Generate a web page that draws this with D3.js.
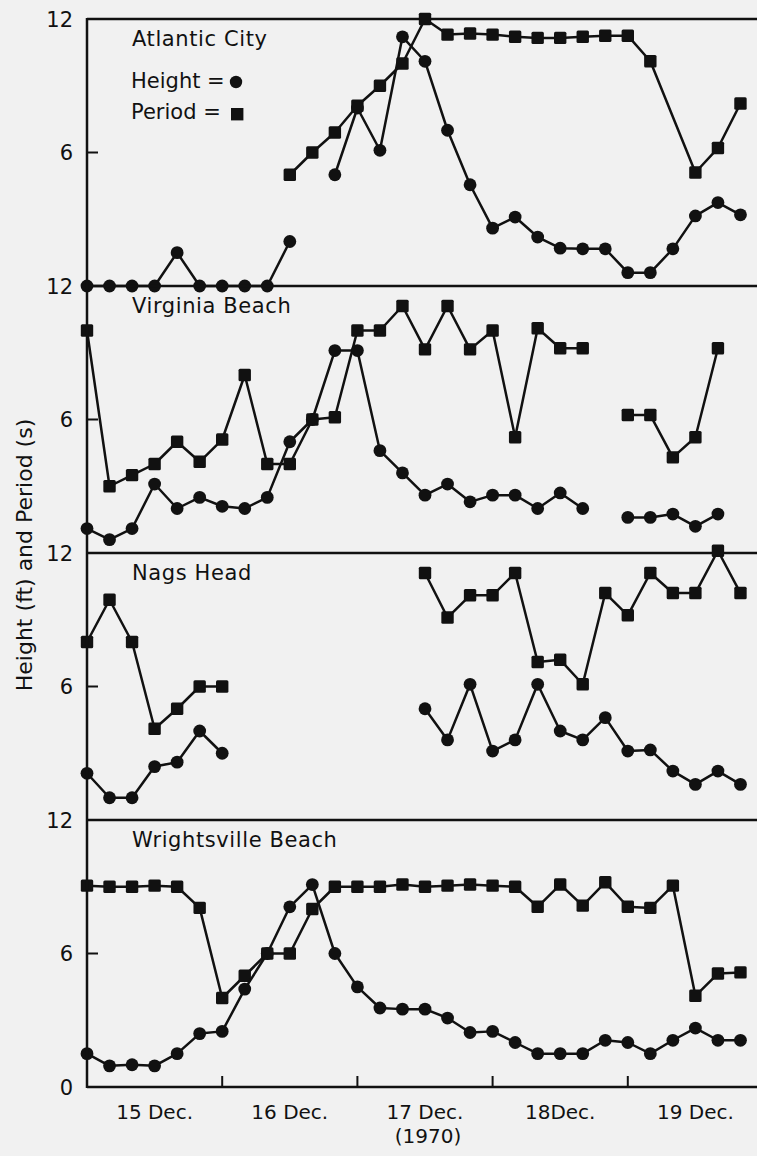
<!DOCTYPE html>
<html>
<head>
<meta charset="utf-8">
<script src="https://cdn.jsdelivr.net/npm/d3@7"></script>
<style>
  html, body { margin: 0; padding: 0; background: #f1f1f1; }
  svg { display: block; }
  text { font-family: "DejaVu Sans", "Noto Sans", sans-serif; fill: #111; }
</style>
</head>
<body>
<svg id="chart" width="757" height="1156"></svg>
<script>
// ---- Data (4-hourly observations from 15 Dec 1970 00h; null = no observation) ----
const stations = ["Atlantic City", "Virginia Beach", "Nags Head", "Wrightsville Beach"];
const dayLabels = ["15 Dec.", "16 Dec.", "17 Dec.", "18Dec.", "19 Dec."];
const yearLabel = "(1970)";
const yTickValues = [0, 6, 12];
const yTitle = "Height (ft) and Period (s)";

const acHeight = [0, 0, 0, 0, 1.5, 0, 0, 0, 0, 2.0, null, 5.0, 8.0, 6.1, 11.2, 10.1, 7.0, 4.55, 2.6, 3.1, 2.2, 1.7, 1.67, 1.67, 0.6, 0.6, 1.67, 3.15, 3.75, 3.2];
const acPeriod = [null, null, null, null, null, null, null, null, null, 5.0, 6.0, 6.9, 8.1, 9.0, 10.0, 12.0, 11.3, 11.35, 11.3, 11.2, 11.15, 11.15, 11.2, 11.25, 11.25, 10.1, null, 5.1, 6.2, 8.2];

const vbHeight = [1.1, 0.6, 1.1, 3.1, 2.0, 2.5, 2.1, 2.0, 2.5, 5.0, 6.0, 9.1, 9.1, 4.6, 3.6, 2.6, 3.1, 2.3, 2.6, 2.6, 2.0, 2.7, 2.0, null, 1.6, 1.6, 1.75, 1.2, 1.75, null];
const vbPeriod = [10.0, 3.0, 3.5, 4.0, 5.0, 4.1, 5.1, 8.0, 4.0, 4.0, 6.0, 6.1, 10.0, 10.0, 11.1, 9.15, 11.1, 9.15, 10.0, 5.2, 10.1, 9.2, 9.2, null, 6.2, 6.2, 4.3, 5.2, 9.2, null];

const nhHeight = [2.1, 1.0, 1.0, 2.4, 2.6, 4.0, 3.0, null, null, null, null, null, null, null, null, 5.0, 3.6, 6.1, 3.1, 3.6, 6.1, 4.0, 3.6, 4.6, 3.1, 3.15, 2.2, 1.6, 2.2, 1.6];
const nhPeriod = [8.0, 9.9, 8.0, 4.1, 5.0, 6.0, 6.0, null, null, null, null, null, null, null, null, 11.1, 9.1, 10.1, 10.1, 11.1, 7.1, 7.2, 6.1, 10.2, 9.2, 11.1, 10.2, 10.2, 12.1, 10.2];

const wbHeight = [1.5, 0.95, 1.0, 0.95, 1.5, 2.4, 2.5, 4.4, 6.0, 8.1, 9.1, 6.0, 4.5, 3.55, 3.5, 3.5, 3.1, 2.45, 2.5, 2.0, 1.5, 1.5, 1.5, 2.1, 2.0, 1.5, 2.1, 2.65, 2.1, 2.1];
const wbPeriod = [9.05, 9.0, 9.0, 9.05, 9.0, 8.05, 4.0, 5.0, 6.0, 6.0, 8.0, 9.0, 9.0, 9.0, 9.1, 9.0, 9.05, 9.1, 9.05, 9.0, 8.1, 9.1, 8.15, 9.2, 8.1, 8.05, 9.05, 4.1, 5.1, 5.15];

// per-station series; "bridge" = line drawn across a missing observation
const panels = [
  { name: stations[0], height: acHeight, period: acPeriod, bridgeHeight: false, bridgePeriod: true },
  { name: stations[1], height: vbHeight, period: vbPeriod, bridgeHeight: false, bridgePeriod: false },
  { name: stations[2], height: nhHeight, period: nhPeriod, bridgeHeight: false, bridgePeriod: false },
  { name: stations[3], height: wbHeight, period: wbPeriod, bridgeHeight: false, bridgePeriod: false }
];

// ---- Layout ----
const svg = d3.select("#chart");
const W = 757, H = 1156;
const plotLeft = 87, plotRight = 763, plotTop = 19, panelH = 267;
const ink = "#111";

svg.append("rect").attr("width", W).attr("height", H).attr("fill", "#f1f1f1");

// x: observation index (4-hour steps), 30 steps = 5 days
const x = d3.scaleLinear().domain([0, 30]).range([plotLeft, plotRight]);
const dayScale = d3.scaleLinear().domain([0, 5]).range([plotLeft, plotRight]);

const g = svg.append("g");

panels.forEach((p, k) => {
  const y0 = plotTop + k * panelH;
  const y = d3.scaleLinear().domain([0, 12]).range([y0 + panelH, y0]);
  const pg = g.append("g");

  pg.append("line").attr("x1", plotLeft).attr("x2", W + 5)
    .attr("y1", y(12)).attr("y2", y(12))
    .attr("stroke", ink).attr("stroke-width", 2.5);

  pg.append("line").attr("x1", plotLeft).attr("x2", plotLeft + 11)
    .attr("y1", y(6)).attr("y2", y(6))
    .attr("stroke", ink).attr("stroke-width", 2);

  const labs = k === panels.length - 1 ? yTickValues : yTickValues.filter(v => v > 0);
  pg.selectAll("text.yt").data(labs).join("text")
    .attr("class", "yt")
    .attr("x", 73).attr("y", d => y(d))
    .attr("dy", "0.36em")
    .attr("text-anchor", "end")
    .style("font-size", "21px")
    .text(d => d);

  pg.append("text")
    .attr("x", 132).attr("y", y0 + 27)
    .style("font-size", "21px")
    .style("letter-spacing", "0.6px")
    .text(p.name);

  const drawSeries = (vals, bridge, symbol) => {
    const pts = vals.map((v, i) => ({ i, v })).filter(d => bridge ? d.v != null : true);
    const line = d3.line()
      .defined(d => d.v != null)
      .x(d => x(d.i)).y(d => y(d.v));
    pg.append("path").datum(pts)
      .attr("d", line)
      .attr("fill", "none")
      .attr("stroke", ink)
      .attr("stroke-width", 2.5)
      .attr("stroke-linejoin", "round");
    const obs = vals.map((v, i) => ({ i, v })).filter(d => d.v != null);
    if (symbol === "circle") {
      pg.selectAll(null).data(obs).join("circle")
        .attr("cx", d => x(d.i)).attr("cy", d => y(d.v))
        .attr("r", 6.4).attr("fill", ink);
    } else {
      pg.selectAll(null).data(obs).join("rect")
        .attr("x", d => x(d.i) - 6.2).attr("y", d => y(d.v) - 6.2)
        .attr("width", 12.4).attr("height", 12.4)
        .attr("rx", 1.5)
        .attr("fill", ink);
    }
  };
  drawSeries(p.period, p.bridgePeriod, "square");
  drawSeries(p.height, p.bridgeHeight, "circle");
});

const yBottom = plotTop + panels.length * panelH;
g.append("line").attr("x1", plotLeft).attr("x2", W + 5)
  .attr("y1", yBottom).attr("y2", yBottom)
  .attr("stroke", ink).attr("stroke-width", 2.5);

g.append("line").attr("x1", plotLeft).attr("x2", plotLeft)
  .attr("y1", plotTop - 1).attr("y2", yBottom + 1)
  .attr("stroke", ink).attr("stroke-width", 2.5);

g.selectAll("line.dt").data([1, 2, 3, 4]).join("line")
  .attr("class", "dt")
  .attr("x1", d => dayScale(d)).attr("x2", d => dayScale(d))
  .attr("y1", yBottom).attr("y2", yBottom - 11)
  .attr("stroke", ink).attr("stroke-width", 2);

g.selectAll("text.dl").data(dayLabels).join("text")
  .attr("class", "dl")
  .attr("x", (d, i) => dayScale(i + 0.5)).attr("y", yBottom + 32)
  .attr("text-anchor", "middle")
  .style("font-size", "20px")
  .text(d => d);

g.append("text")
  .attr("x", dayScale(2.5) + 3).attr("y", yBottom + 56)
  .attr("text-anchor", "middle")
  .style("font-size", "20px")
  .text(yearLabel);

g.append("text")
  .attr("transform", `translate(32, 555) rotate(-90)`)
  .attr("text-anchor", "middle")
  .style("font-size", "22px")
  .text(yTitle);

const legend = g.append("g");
legend.append("text").attr("x", 131).attr("y", 88).style("font-size", "21px").text("Height =");
legend.append("circle").attr("cx", 236).attr("cy", 82).attr("r", 6.2).attr("fill", ink);
legend.append("text").attr("x", 131).attr("y", 119).style("font-size", "21px").text("Period =");
legend.append("rect").attr("x", 231).attr("y", 108).attr("width", 12.4).attr("height", 12.4).attr("fill", ink);
</script>
</body>
</html>
